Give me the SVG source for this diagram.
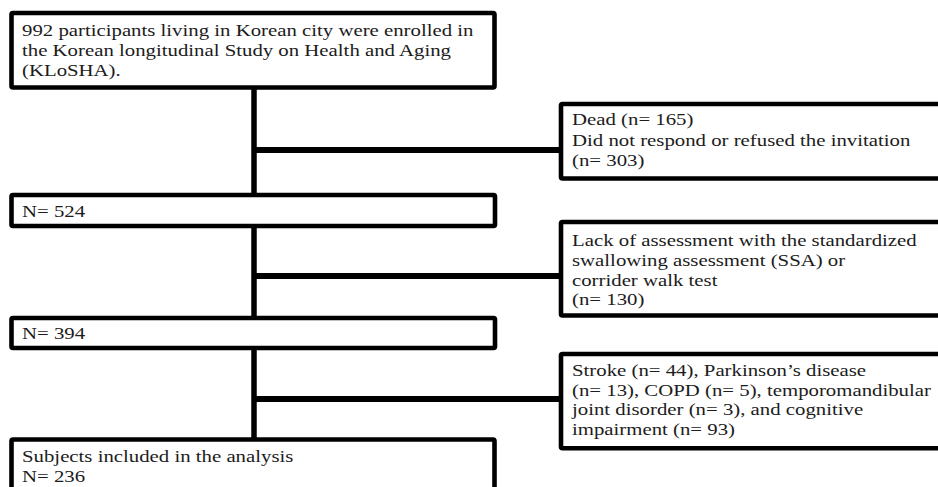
<svg xmlns="http://www.w3.org/2000/svg" width="938" height="487" viewBox="0 0 938 487">
<style>
.box{fill:#fff;stroke:#000;stroke-width:4.6;stroke-linejoin:round}
.conn{stroke:#000;fill:none}
.v{stroke-width:5.5}
.h{stroke-width:6.2}
text{font-family:"Liberation Serif","Times New Roman",serif;font-size:16px;fill:#1c1c1c}
</style>
<rect width="938" height="487" fill="#fff"/>
<g id="connectors">
<line class="conn v" x1="254" y1="87" x2="254" y2="440"/>
<line class="conn h" x1="254" y1="150" x2="561" y2="150"/>
<line class="conn h" x1="254" y1="276" x2="561" y2="276"/>
<line class="conn h" x1="254" y1="399" x2="561" y2="399"/>
</g>
<g id="enrolled">
<rect class="box" x="11.5" y="13" width="483" height="74.5" rx="1.5"/>
<g transform="translate(22 0) scale(1.3 1)">
<text x="0" y="36">992 participants living in Korean city were enrolled in</text>
<text x="0" y="56">the Korean longitudinal Study on Health and Aging</text>
<text x="0" y="76">(KLoSHA).</text>
</g>
</g>
<g id="excluded1">
<rect class="box" x="561" y="104" width="390" height="74.5" rx="1.5"/>
<g transform="translate(572 0) scale(1.3 1)">
<text x="0" y="125">Dead (n= 165)</text>
<text x="0" y="146">Did not respond or refused the invitation</text>
<text x="0" y="166">(n= 303)</text>
</g>
</g>
<g id="n524">
<rect class="box" x="11.5" y="195" width="483.5" height="31" rx="1.5"/>
<g transform="translate(22 0) scale(1.3 1)">
<text x="0" y="217">N= 524</text>
</g>
</g>
<g id="excluded2">
<rect class="box" x="561" y="222" width="390" height="93.5" rx="1.5"/>
<g transform="translate(572 0) scale(1.3 1)">
<text x="0" y="246">Lack of assessment with the standardized</text>
<text x="0" y="266">swallowing assessment (SSA) or</text>
<text x="0" y="286">corrider walk test</text>
<text x="0" y="305">(n= 130)</text>
</g>
</g>
<g id="n394">
<rect class="box" x="11.5" y="318" width="483.5" height="30" rx="1.5"/>
<g transform="translate(22 0) scale(1.3 1)">
<text x="0" y="339">N= 394</text>
</g>
</g>
<g id="excluded3">
<rect class="box" x="561" y="354" width="390" height="94.3" rx="1.5"/>
<g transform="translate(572 0) scale(1.3 1)">
<text x="0" y="376">Stroke (n= 44), Parkinson’s disease</text>
<text x="0" y="396">(n= 13), COPD (n= 5), temporomandibular</text>
<text x="0" y="415">joint disorder (n= 3), and cognitive</text>
<text x="0" y="435">impairment (n= 93)</text>
</g>
</g>
<g id="final">
<rect class="box" x="11.5" y="439.5" width="483" height="60" rx="1.5"/>
<g transform="translate(22 0) scale(1.3 1)">
<text x="0" y="462">Subjects included in the analysis</text>
<text x="0" y="482">N= 236</text>
</g>
</g>
</svg>
